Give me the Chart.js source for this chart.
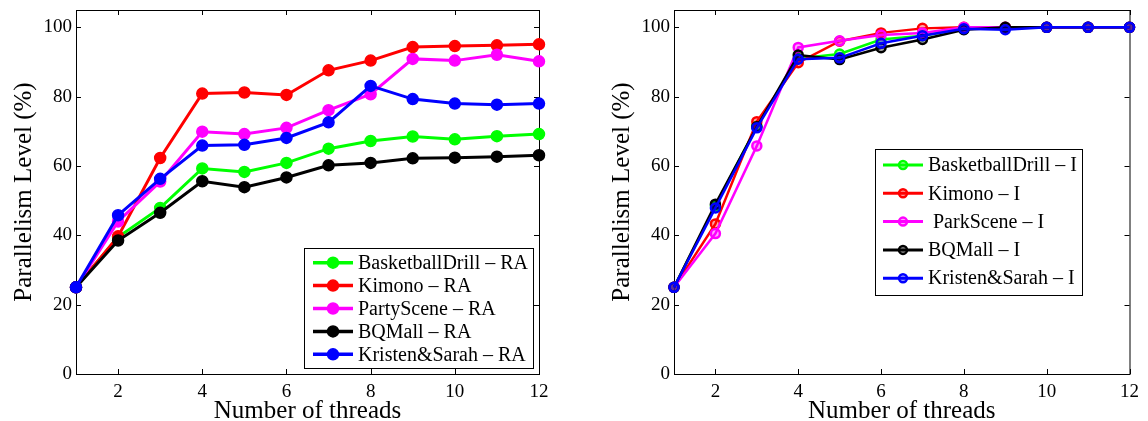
<!DOCTYPE html>
<html><head><meta charset="utf-8">
<script src="https://cdn.jsdelivr.net/npm/chart.js@4/dist/chart.umd.min.js"></script>
<style>
html,body{margin:0;padding:0;background:#fff;overflow:hidden}
#wrap{position:relative;width:1148px;height:421px}
.box{position:absolute;top:0;height:421px}
</style></head><body>
<div id="wrap">
<div class="box" style="left:0;width:560px"><canvas id="c1"></canvas></div>
<div class="box" style="left:598px;width:550px"><canvas id="c2"></canvas></div>
</div>
<script>
const threads = [1,2,3,4,5,6,7,8,9,10,11,12];
const xTickValues = [2,4,6,8,10,12];
const yTickValues = [0,20,40,60,80,100];
const xTitle = 'Number of threads';
const yTitle = 'Parallelism Level (%)';

const raLabels = ['BasketballDrill \u2013 RA','Kimono \u2013 RA','PartyScene \u2013 RA','BQMall \u2013 RA','Kristen&Sarah \u2013 RA'];
const basketballRA = [25, 39.5, 47.9, 59.3, 58.3, 60.9, 65.0, 67.2, 68.5, 67.7, 68.6, 69.2];
const kimonoRA     = [25, 39.7, 62.3, 80.9, 81.2, 80.5, 87.6, 90.4, 94.3, 94.6, 94.8, 95.1];
const partyRA      = [25, 44.0, 55.5, 69.9, 69.2, 71.0, 76.1, 80.7, 90.9, 90.4, 92.1, 90.2];
const bqmallRA     = [25, 38.5, 46.5, 55.6, 53.9, 56.7, 60.2, 60.9, 62.2, 62.4, 62.7, 63.1];
const kristenRA    = [25, 45.8, 56.3, 65.9, 66.1, 68.1, 72.6, 83.1, 79.3, 78.0, 77.7, 78.0];

const iLabels = ['BasketballDrill \u2013 I','Kimono \u2013 I',' ParkScene \u2013 I','BQMall \u2013 I','Kristen&Sarah \u2013 I'];
const basketballI = [25, 48.5, 71.5, 91.0, 92.3, 96.5, 97.6, 99.5, 100, 100, 100, 100];
const kimonoI     = [25, 43.3, 72.8, 89.8, 96.0, 98.4, 99.7, 100, 100, 100, 100, 100];
const parkI       = [25, 40.5, 65.8, 94.2, 96.1, 97.8, 98.4, 100, 100, 100, 100, 100];
const bqmallI     = [25, 49.0, 71.3, 92.0, 90.7, 94.1, 96.5, 99.3, 100, 100, 100, 100];
const kristenI    = [25, 47.9, 71.0, 90.8, 91.2, 95.4, 97.6, 99.6, 99.3, 100, 100, 100];

const colors = ['#00ff00','#ff0000','#ff00ff','#000000','#0000ff'];
const fills  = ['rgba(0,255,0,0.35)','rgba(255,0,0,0.35)','rgba(255,0,255,0.35)','rgba(0,0,0,0.35)','rgba(0,0,255,0.35)'];
const drawOrder = [4,3,2,1,0];
const FONT = '"Liberation Serif","Times New Roman",serif';

const framePlugin = {
  id:'frame',
  beforeDatasetsDraw(chart){
    const {ctx, chartArea:a, scales:{x,y}} = chart;
    ctx.save();
    ctx.strokeStyle='#000'; ctx.lineWidth=1;
    ctx.strokeRect(a.left+0.5, a.top+0.5, a.right-a.left, a.bottom-a.top);
    ctx.beginPath();
    xTickValues.forEach(v=>{
      const p=Math.round(x.getPixelForValue(v))+0.5;
      ctx.moveTo(p,a.bottom); ctx.lineTo(p,a.bottom-5);
      ctx.moveTo(p,a.top); ctx.lineTo(p,a.top+5);
    });
    yTickValues.forEach(v=>{
      const p=Math.round(y.getPixelForValue(v))+0.5;
      ctx.moveTo(a.left,p); ctx.lineTo(a.left+5,p);
      ctx.moveTo(a.right,p); ctx.lineTo(a.right-5,p);
    });
    ctx.stroke();
    ctx.restore();
  },
  afterDatasetsDraw(chart){
    const lg = chart.options.plugins.frame.legend;
    const {ctx} = chart;
    ctx.save();
    ctx.fillStyle='#fff'; ctx.fillRect(lg.x,lg.y,lg.w,lg.h);
    ctx.strokeStyle='#000'; ctx.lineWidth=1;
    ctx.strokeRect(lg.x+0.5,lg.y+0.5,lg.w,lg.h);
    chart.data.datasets.forEach((ds,i)=>{
      const cy = lg.y + lg.first + i*lg.step;
      ctx.strokeStyle=ds.borderColor; ctx.lineWidth=lg.lw;
      ctx.beginPath(); ctx.moveTo(lg.x+lg.l0,cy); ctx.lineTo(lg.x+lg.l1,cy); ctx.stroke();
      ctx.beginPath(); ctx.arc(lg.x+(lg.l0+lg.l1)/2,cy,lg.r,0,Math.PI*2);
      ctx.fillStyle=ds.pointBackgroundColor; ctx.fill();
      ctx.lineWidth=ds.pointBorderWidth; ctx.strokeStyle=ds.borderColor; ctx.stroke();
      ctx.fillStyle='#000'; ctx.font='20px '+FONT; ctx.textBaseline='middle'; ctx.textAlign='left';
      ctx.fillText(ds.label, lg.x+lg.tx, cy+1);
    });
    ctx.restore();
  }
};

function makeChart(id, labels, series, style, rightPad, legend){
  const datasets = series.map((s,i)=>({
    label: labels[i],
    data: threads.map((t,k)=>({x:t,y:s[k]})),
    borderColor: colors[i],
    backgroundColor: colors[i],
    pointBackgroundColor: style.filled ? colors[i] : fills[i],
    pointBorderColor: colors[i],
    pointBorderWidth: style.pbw,
    pointRadius: style.pr,
    borderWidth: style.lw,
    tension: 0,
    clip: false,
    order: drawOrder[i]
  }));
  return new Chart(document.getElementById(id), {
    type:'line',
    data:{datasets},
    plugins:[framePlugin],
    options:{
      responsive:true, maintainAspectRatio:false, animation:false,
      layout:{padding:{top:10,right:rightPad,left:0,bottom:0}},
      plugins:{legend:{display:false}, tooltip:{enabled:false}, frame:{legend}},
      scales:{
        x:{type:'linear', min:1, max:12,
          afterBuildTicks(s){ s.ticks = xTickValues.map(v=>({value:v})); },
          afterFit(s){ s.height=47; },
          grid:{display:false, drawTicks:false}, border:{display:false},
          ticks:{font:{family:FONT,size:19,lineHeight:1}, color:'#000', padding:9, maxRotation:0, autoSkip:false},
          title:{display:true, text:xTitle, font:{family:FONT,size:25,lineHeight:0.8}, color:'#000', padding:{top:0,bottom:0}}
        },
        y:{type:'linear', min:0, max:105,
          afterBuildTicks(s){ s.ticks = yTickValues.map(v=>({value:v})); },
          afterFit(s){ s.width=76; },
          grid:{display:false, drawTicks:false}, border:{display:false},
          ticks:{font:{family:FONT,size:19,lineHeight:0.6}, color:'#000', padding:4},
          title:{display:true, text:yTitle, font:{family:FONT,size:25,lineHeight:1.2}, color:'#000', padding:{top:9,bottom:0}}
        }
      }
    }
  });
}

makeChart('c1', raLabels, [basketballRA,kimonoRA,partyRA,bqmallRA,kristenRA],
  {filled:true, pr:5.5, pbw:1.5, lw:3}, 21,
  {x:304, y:248, w:229, h:120, first:14.7, step:22.9, l0:9, l1:49, tx:54, r:5.5, lw:3.5});
makeChart('c2', iLabels, [basketballI,kimonoI,parkI,bqmallI,kristenI],
  {filled:false, pr:4.5, pbw:2.5, lw:2.5}, 11,
  {x:277, y:149, w:207, h:146, first:16, step:28.3, l0:8, l1:48, tx:53, r:4, lw:3});
</script>
</body></html>
